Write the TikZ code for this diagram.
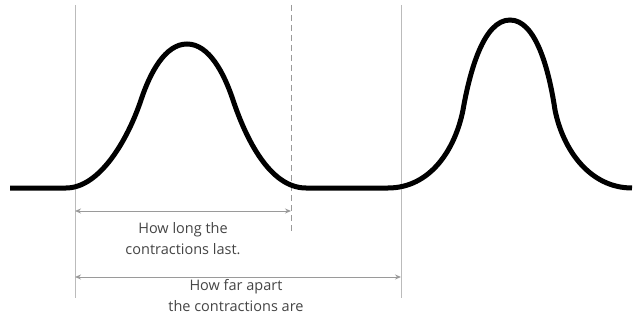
\documentclass[tikz,border=0pt]{standalone}
\usepackage{fontspec}
\setmainfont{Open Sans}
\usetikzlibrary{arrows.meta}
\definecolor{guide}{HTML}{BBBBBB}
\definecolor{arrowgray}{HTML}{9A9A9A}
\definecolor{textgray}{HTML}{444444}
\begin{document}
\begin{tikzpicture}[x=1pt,y=-1pt,
  guideline/.style={draw=guide,line width=1pt},
  dashguide/.style={draw=arrowgray,line width=0.8pt,dash pattern=on 6pt off 4pt},
  measure/.style={draw=arrowgray,line width=1pt,{Stealth[length=6pt,width=5pt]}-{Stealth[length=6pt,width=5pt]}},
  label/.style={text=textgray,font=\fontsize{14.5}{21}\selectfont,align=center,inner sep=0pt},
  wave/.style={draw=black,line width=5pt}]
\useasboundingbox (0,0) rectangle (642,326);
% guide lines
\coordinate (l1t) at (75,5);   \coordinate (l1b) at (75,298);
\coordinate (l2t) at (401,5);  \coordinate (l2b) at (401,298);
\coordinate (dt) at (291,5);   \coordinate (db) at (291,232);
\draw[guideline] (l1t) -- (l1b);
\draw[guideline] (l2t) -- (l2b);
\draw[dashguide] (dt) -- (db);
% wave
\draw[wave] (10,188) -- (66,188)
  .. controls (100,188) and (128,139) .. (141,100)
  .. controls (150,73) and (165,44) .. (187,44)
  .. controls (209,44) and (224,73) .. (233,100)
  .. controls (246,139) and (270,188) .. (306,188)
  -- (388,188)
  .. controls (430,188) and (455,150) .. (463,110)
  .. controls (470,70) and (484,20) .. (510,20)
  .. controls (536,20) and (549,70) .. (555,110)
  .. controls (563,150) and (590,188) .. (632,188);
% measurements
\coordinate (a1l) at (75,211); \coordinate (a1r) at (291,211);
\coordinate (a2l) at (75,277); \coordinate (a2r) at (401,277);
\draw[measure] (a1l) -- (a1r);
\draw[measure] (a2l) -- (a2r);
\node[label] (t1) at (183,239) {How long the\\contractions last.};
\node[label] (t2) at (236,296) {How far apart\\the contractions are};
\end{tikzpicture}
\end{document}
